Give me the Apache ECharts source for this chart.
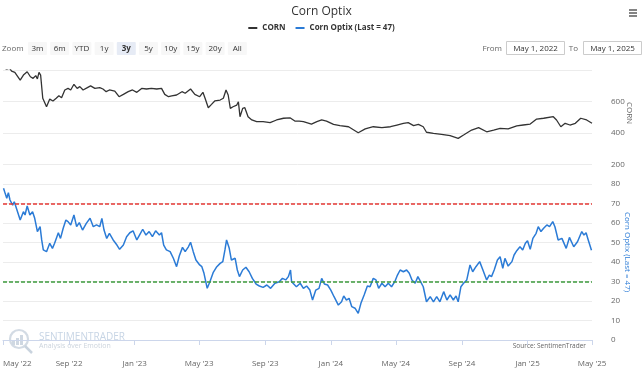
<!DOCTYPE html>
<html><head><meta charset="utf-8">
<script src="https://cdn.jsdelivr.net/npm/echarts@6/dist/echarts.min.js"></script>
<style>html,body{margin:0;padding:0;background:#fff}#c{width:643px;height:373px}</style>
</head><body><div id="c"></div>
<script>
const cornDates = ['2022-05-02','2022-05-08','2022-05-13','2022-05-17','2022-05-23','2022-06-02','2022-06-08','2022-06-15','2022-06-21','2022-06-26',
'2022-07-01','2022-07-04','2022-07-07','2022-07-10','2022-07-14','2022-07-17','2022-07-21','2022-07-27','2022-08-02','2022-08-08',
'2022-08-13','2022-08-18','2022-08-24','2022-08-30','2022-09-04','2022-09-10','2022-09-16','2022-09-21','2022-09-27','2022-10-05',
'2022-10-11','2022-10-19','2022-10-28','2022-11-03','2022-11-09','2022-11-15','2022-11-25','2022-12-03','2022-12-11','2022-12-20',
'2022-12-28','2023-01-05','2023-01-14','2023-01-23','2023-02-01','2023-02-11','2023-02-20','2023-02-26','2023-03-05','2023-03-11',
'2023-03-20','2023-03-30','2023-04-05','2023-04-15','2023-04-23','2023-05-02','2023-05-08','2023-05-12','2023-05-18','2023-05-24',
'2023-05-30','2023-06-09','2023-06-15','2023-06-20','2023-06-24','2023-06-28','2023-07-03','2023-07-10','2023-07-13','2023-07-16',
'2023-07-21','2023-07-25','2023-07-31','2023-08-07','2023-08-16','2023-08-28','2023-09-10','2023-09-22','2023-10-05','2023-10-17',
'2023-10-26','2023-11-03','2023-11-11','2023-11-26','2023-12-06','2023-12-15','2023-12-24','2024-01-06','2024-01-18','2024-02-03',
'2024-02-21','2024-03-05','2024-03-20','2024-04-05','2024-04-21','2024-05-03','2024-05-15','2024-05-24','2024-06-03','2024-06-12',
'2024-06-21','2024-06-27','2024-07-10','2024-07-25','2024-08-10','2024-08-25','2024-09-04','2024-09-19','2024-10-02','2024-10-17',
'2024-10-30','2024-11-11','2024-11-26','2024-12-12','2024-12-24','2025-01-06','2025-01-18','2025-01-31','2025-02-18','2025-02-24',
'2025-03-04','2025-03-12','2025-03-21','2025-03-31','2025-04-10','2025-04-21','2025-05-01'];
const cornValues = [814,806,812,793,785,736,768,789,757,747,
764,743,785,768,620,609,566,615,603,620,
636,624,673,683,673,709,683,694,673,688,
699,683,688,679,662,673,666,630,645,662,
673,658,683,679,683,679,683,645,630,636,
641,662,652,679,645,630,658,620,560,581,
603,609,620,673,641,556,566,577,598,503,
556,560,503,482,471,471,465,482,493,496,
475,475,471,456,471,482,475,454,446,439,
401,425,439,433,439,450,461,465,446,454,
439,404,397,391,382,365,386,418,433,407,
418,429,425,444,450,456,488,493,503,482,
439,461,450,461,493,482,461];

const optixDates = ['2022-05-02','2022-05-05','2022-05-08','2022-05-11','2022-05-14','2022-05-19','2022-05-22','2022-05-27','2022-06-02','2022-06-08',
'2022-06-11','2022-06-15','2022-06-20','2022-06-25','2022-06-29','2022-07-04','2022-07-09','2022-07-12','2022-07-15','2022-07-21',
'2022-07-27','2022-08-01','2022-08-05','2022-08-12','2022-08-16','2022-08-21','2022-08-26','2022-08-30','2022-09-04','2022-09-10',
'2022-09-15','2022-09-20','2022-09-26','2022-10-03','2022-10-10','2022-10-16','2022-10-22','2022-10-28','2022-11-01','2022-11-05',
'2022-11-10','2022-11-15','2022-11-22','2022-11-29','2022-12-04','2022-12-11','2022-12-17','2022-12-23','2022-12-29','2023-01-05',
'2023-01-10','2023-01-16','2023-01-22','2023-01-28','2023-02-03','2023-02-09','2023-02-16','2023-02-20','2023-02-24','2023-03-01',
'2023-03-08','2023-03-14','2023-03-20','2023-03-25','2023-03-31','2023-04-05','2023-04-11','2023-04-15','2023-04-20','2023-04-25',
'2023-05-02','2023-05-06','2023-05-10','2023-05-16','2023-05-21','2023-05-27','2023-06-02','2023-06-09','2023-06-14','2023-06-18',
'2023-06-21','2023-06-26','2023-06-30','2023-07-07','2023-07-11','2023-07-15','2023-07-21','2023-07-27','2023-08-02','2023-08-08',
'2023-08-15','2023-08-21','2023-08-28','2023-09-04','2023-09-11','2023-09-19','2023-09-27','2023-10-03','2023-10-09','2023-10-14',
'2023-10-18','2023-10-20','2023-10-29','2023-11-05','2023-11-11','2023-11-17','2023-11-23','2023-11-28','2023-12-04','2023-12-10',
'2023-12-15','2023-12-20','2023-12-26','2024-01-01','2024-01-07','2024-01-15','2024-01-21','2024-01-25','2024-01-30','2024-02-04',
'2024-02-09','2024-02-15','2024-02-21','2024-02-26','2024-03-03','2024-03-09','2024-03-14','2024-03-20','2024-03-25','2024-03-30',
'2024-04-05','2024-04-11','2024-04-17','2024-04-23','2024-04-29','2024-05-04','2024-05-09','2024-05-15','2024-05-21','2024-05-26',
'2024-05-31','2024-06-06','2024-06-11','2024-06-16','2024-06-21','2024-06-27','2024-07-04','2024-07-10','2024-07-16','2024-07-22',
'2024-07-29','2024-08-04','2024-08-10','2024-08-16','2024-08-21','2024-08-25','2024-08-30','2024-09-04','2024-09-10','2024-09-16',
'2024-09-21','2024-09-27','2024-10-04','2024-10-10','2024-10-17','2024-10-22','2024-10-26','2024-10-31','2024-11-06','2024-11-11',
'2024-11-16','2024-11-20','2024-11-26','2024-12-03','2024-12-07','2024-12-12','2024-12-18','2024-12-23','2024-12-28','2025-01-01',
'2025-01-06','2025-01-11','2025-01-17','2025-01-21','2025-01-26','2025-01-31','2025-02-06','2025-02-11','2025-02-17','2025-02-21',
'2025-02-27','2025-03-06','2025-03-14','2025-03-20','2025-03-28','2025-04-04','2025-04-12','2025-04-16','2025-04-20','2025-04-24',
'2025-04-27','2025-04-30'];
const optixValues = [77.8,75.2,72.7,75.5,71.8,69.2,70.9,66.7,61.5,65.8,
64.1,68.7,64.1,65.8,62.4,55.6,58.1,51.3,46.2,45.3,
49.6,47,49.6,55,52.1,57.3,61.5,60.7,59,64.1,
58.1,60.2,56.4,59.8,62.4,58.1,59,58.1,62.4,56.4,
52.1,54.7,51.3,48.7,46.5,48.7,53,55,56,51.3,
53.8,56.8,53.8,55.6,53,56,53.8,55,48.7,46.2,
45.3,41.9,37.6,43.1,47.5,45.3,47.8,50.1,45.3,41,
38.5,37.6,34.2,26.5,29.9,34.5,37.3,39.3,40.2,46.2,
51.3,47,41,41.9,35.9,32.5,35.9,37.3,35,31.6,
28.7,27.7,27,28.2,26.5,29.1,29.9,31.6,30.8,32.5,
35.9,29.9,27.3,29.1,26.5,27.7,25.6,20.5,25.6,26.5,
31.6,28.7,28.2,25.6,22.2,17.9,19.6,22.6,20.5,21.4,
17.1,16.3,13.7,18.8,23.1,27.7,27.3,31.6,30.8,26.5,
29.1,27.3,29.1,27.3,29.9,33.3,35.9,35,35.9,34.2,
30.8,29.1,32.5,29.9,27.3,19.6,22.2,19.6,22.2,19.6,
24.8,20.5,23.1,20.5,22.6,19.6,27.3,29.1,30.8,38.5,
35,37.6,40.2,35.9,30.8,33.3,32.5,35.9,41,42.7,
36.8,41.9,37.9,40.2,43.6,45.8,47.8,46.2,49.6,50.9,
46.5,52.1,54.7,58.1,55.6,57.3,59,58.1,60.7,58.1,
51.3,52.1,47,52.6,47.8,50.4,55.6,53.8,55,51.3,
50.4,46];

const thresholds = [70, 30];
const xTickDates = ['2022-05-01','2022-09-01','2023-01-01','2023-05-01','2023-09-01','2024-01-01','2024-05-01','2024-09-01','2025-01-01','2025-05-01'];
const cornAxis = {min: 200, max: 800, step: 200};
const optixAxis = {min: 0, max: 80, step: 10};
const rangeButtons = ['3m','6m','YTD','1y','3y','5y','10y','15y','20y','All'];
const selectedRange = '3y';
const fromDate = 'May 1, 2022';
const toDate = 'May 1, 2025';
const cornTitle = 'CORN';
const optixTitle = 'Corn Optix (Last = 47)';
const monthNames = ['Jan','Feb','Mar','Apr','May','Jun','Jul','Aug','Sep','Oct','Nov','Dec'];

const FONT = '"Open Sans", sans-serif';
const ts = s => { const p = s.split('-').map(Number); return Date.UTC(p[0], p[1] - 1, p[2]); };
const xMin = ts(xTickDates[0]);
const xMax = ts(xTickDates[xTickDates.length - 1]);
const tickVals = xTickDates.map(ts);

const cornData = cornDates.map((d, i) => [ts(d), cornValues[i]]);
const optixData = optixDates.map((d, i) => [ts(d), optixValues[i]]);

const g = [];
g.push({type:'text', x: 2, y: 48.5, style:{text:'Zoom', fill:'#666', font:'8px ' + FONT, verticalAlign:'middle'}});
rangeButtons.forEach((b, i) => {
  const x = 28 + i * 22.2;
  const sel = b === selectedRange;
  g.push({type:'rect', shape:{x: x, y: 42, width: 19, height: 13, r: 1}, style:{fill: sel ? '#e6ebf5' : '#f7f7f7'}, silent:true});
  g.push({type:'text', x: x + 9.5, y: 48.5, style:{text: b, fill: '#333', font: (sel ? 'bold ' : '') + '8px ' + FONT, align:'center', verticalAlign:'middle'}});
});
g.push({type:'text', x: 502, y: 48.5, style:{text:'From', fill:'#666', font:'8px ' + FONT, align:'right', verticalAlign:'middle'}});
g.push({type:'rect', shape:{x: 506.5, y: 41.5, width: 58, height: 13}, style:{fill:'#fff', stroke:'#cccccc', lineWidth:1}});
g.push({type:'text', x: 535.5, y: 48.5, style:{text: fromDate, fill:'#333', font:'8px ' + FONT, align:'center', verticalAlign:'middle'}});
g.push({type:'text', x: 578, y: 48.5, style:{text:'To', fill:'#666', font:'8px ' + FONT, align:'right', verticalAlign:'middle'}});
g.push({type:'rect', shape:{x: 583.5, y: 41.5, width: 58, height: 13}, style:{fill:'#fff', stroke:'#cccccc', lineWidth:1}});
g.push({type:'text', x: 612.5, y: 48.5, style:{text: toDate, fill:'#333', font:'8px ' + FONT, align:'center', verticalAlign:'middle'}});
[10, 13, 16].forEach(y => g.push({type:'line', shape:{x1: 629, y1: y, x2: 637, y2: y}, style:{stroke:'#666', lineWidth: 1.6}}));
// axis titles (rotated, reading top to bottom)
g.push({type:'text', x: 629, y: 113, rotation: -Math.PI / 2, style:{text: cornTitle, fill:'#666', font:'8px ' + FONT, align:'center', verticalAlign:'middle'}});
g.push({type:'text', x: 627, y: 252, rotation: -Math.PI / 2, style:{text: optixTitle, fill:'#2b7bd6', font:'8px ' + FONT, align:'center', verticalAlign:'middle'}});
// watermark
g.push({type:'circle', shape:{cx: 19, cy: 339, r: 9}, style:{fill:'none', stroke:'#d3dbe4', lineWidth: 2.2}});
[[12,341,3,4],[16,338,3,7],[20,335,3,10]].forEach(r => g.push({type:'rect', shape:{x:r[0], y:r[1], width:r[2], height:r[3]}, style:{fill:'#cfd8e2'}}));
g.push({type:'line', shape:{x1: 25, y1: 346, x2: 32, y2: 353}, style:{stroke:'#c9d3de', lineWidth: 2.5}});
g.push({type:'text', x: 39, y: 337, style:{text:'SENTIMENTRADER', fill:'#c7d5e5', font:'10px ' + FONT, verticalAlign:'middle'}});
g.push({type:'text', x: 39, y: 345.5, style:{text:'Analysis over Emotion', fill:'#ccd4dd', font:'7px ' + FONT, verticalAlign:'middle'}});
g.push({type:'text', x: 586, y: 346, style:{text:'Source: SentimenTrader', fill:'#666', font:'6.5px ' + FONT, align:'right', verticalAlign:'middle'}});

const fmtDate = v => { const d = new Date(v); return monthNames[d.getUTCMonth()] + " '" + String(d.getUTCFullYear()).slice(2); };

const option = {
  animation: false,
  backgroundColor: '#fff',
  textStyle: {fontFamily: FONT},
  title: {text: 'Corn Optix', left: 'center', top: 1, textStyle: {fontSize: 12, fontWeight: 'normal', color: '#333', fontFamily: FONT}},
  legend: {
    top: 19, left: 'center', itemGap: 10, itemWidth: 9, itemHeight: 2, icon: 'rect',
    textStyle: {fontSize: 8, fontWeight: 'bold', color: '#333', fontFamily: FONT},
    data: [cornTitle, optixTitle]
  },
  grid: [
    {left: 3, right: 51, top: 70, height: 94.3},
    {left: 3, right: 51, top: 184, height: 156}
  ],
  xAxis: [
    {type: 'value', gridIndex: 0, min: xMin, max: xMax, show: false, splitLine: {show: false}},
    {type: 'value', gridIndex: 1, min: xMin, max: xMax, offset: 14,
      axisLine: {show: true, lineStyle: {color: '#ccd6eb'}},
      axisTick: {show: true, customValues: tickVals, length: 5, lineStyle: {color: '#ccd6eb'}},
      axisLabel: {customValues: tickVals, color: '#666', fontSize: 8, margin: 6, alignMinLabel: 'left', alignMaxLabel: 'center', showMinLabel: true, showMaxLabel: true,
        formatter: fmtDate},
      splitLine: {show: false}}
  ],
  yAxis: [
    {type: 'value', gridIndex: 0, position: 'right', min: cornAxis.min, max: cornAxis.max, interval: cornAxis.step,
      axisLine: {show: false}, axisTick: {show: false},
      axisLabel: {color: '#666', fontSize: 8, margin: 19, formatter: v => v === cornAxis.max ? '' : String(v)},
      splitLine: {lineStyle: {color: '#ececec'}}},
    {type: 'value', gridIndex: 1, position: 'right', min: optixAxis.min, max: optixAxis.max, interval: optixAxis.step,
      axisLine: {show: false}, axisTick: {show: false},
      axisLabel: {color: '#666', fontSize: 8, margin: 19},
      splitLine: {lineStyle: {color: '#ececec'}}}
  ],
  series: [
    {name: cornTitle, type: 'line', xAxisIndex: 0, yAxisIndex: 0, data: cornData, showSymbol: false,
      lineStyle: {color: '#333', width: 1.3}, itemStyle: {color: '#333'}},
    {name: optixTitle, type: 'line', xAxisIndex: 1, yAxisIndex: 1, data: optixData, showSymbol: false,
      lineStyle: {color: '#2b7bd6', width: 1.5}, itemStyle: {color: '#2b7bd6'},
      markLine: {silent: true, symbol: ['none', 'none'], label: {show: false},
        data: thresholds.map((v, i) => ({yAxis: v, lineStyle: {color: i === 0 ? '#e53935' : '#3c9a3c', type: [4, 2], width: 1.5}}))}}
  ],
  graphic: g
};
const chart = echarts.init(document.getElementById('c'), null, {renderer: 'canvas'});
chart.setOption(option);
</script></body></html>
